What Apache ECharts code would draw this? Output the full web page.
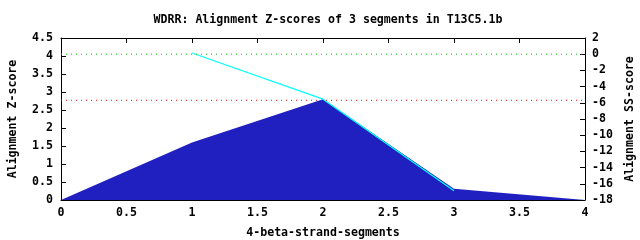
<!DOCTYPE html>
<html>
<head>
<meta charset="utf-8">
<script src="https://cdn.jsdelivr.net/npm/echarts@6/dist/echarts.min.js"></script>
<style>html,body{margin:0;padding:0;background:#fff;}#c{width:640px;height:240px;}</style>
</head>
<body>
<div id="c"></div>
<script>
const titleText = 'WDRR: Alignment Z-scores of 3 segments in T13C5.1b';
const segments = [0, 1, 2, 3, 4];
const zScores = [0, 1.6, 2.8, 0.31, 0];
const ssSegments = [1, 2, 3];
const ssScores = [0.15, -5.55, -16.85];
const zThreshold = 2.77;
const ssThreshold = 0;
const xRange = [0, 4];
const xLabel = '4-beta-strand-segments';
const yLabel = 'Alignment Z-score';
const y2Label = 'Alignment SS-score';

const FONT = '"DejaVu Sans Mono", monospace';
const txt = {fontFamily: FONT, fontSize: 11.6, fontWeight: 'bold', color: '#000'};
const fmt = v => String(v);

const chart = echarts.init(document.getElementById('c'), null, {renderer: 'canvas'});
chart.setOption({
  animation: false,
  backgroundColor: '#fff',
  title: {text: titleText, left: 323, top: 9, textAlign: 'center',
    textStyle: Object.assign({}, txt)},
  grid: {left: 61, right: 55, top: 38, bottom: 40, containLabel: false, outerBoundsMode: 'none'},
  xAxis: [{
    type: 'value', min: 0, max: 4, interval: 0.5, position: 'bottom',
    name: xLabel, nameLocation: 'middle', nameGap: 27, nameTextStyle: txt,
    axisLine: {onZero: false, lineStyle: {color: '#000', width: 1}},
    axisTick: {inside: true, length: 5, lineStyle: {color: '#000'}},
    axisLabel: Object.assign({margin: 7, formatter: fmt}, txt),
    splitLine: {show: false}
  }, {
    type: 'value', min: 0, max: 4, interval: 0.5, position: 'top',
    axisLine: {onZero: false, lineStyle: {color: '#000', width: 1}},
    axisTick: {inside: true, length: 5, lineStyle: {color: '#000'}},
    axisLabel: {show: false}, splitLine: {show: false}
  }],
  yAxis: [{
    type: 'value', min: 0, max: 4.5, interval: 0.5, position: 'left',
    name: yLabel, nameLocation: 'middle', nameGap: 42, nameRotate: 90, nameTextStyle: txt,
    axisLine: {show: true, onZero: false, lineStyle: {color: '#000', width: 1}},
    axisTick: {show: true, inside: true, length: 5, lineStyle: {color: '#000'}},
    axisLabel: Object.assign({margin: 8, formatter: fmt}, txt),
    splitLine: {show: false}
  }, {
    type: 'value', min: -18, max: 2, interval: 2, position: 'right',
    name: y2Label, nameLocation: 'middle', nameGap: 34, nameRotate: 90, nameTextStyle: txt,
    axisLine: {show: true, onZero: false, lineStyle: {color: '#000', width: 1}},
    axisTick: {show: true, inside: true, length: 5, lineStyle: {color: '#000'}},
    axisLabel: Object.assign({margin: 7, formatter: fmt}, txt),
    splitLine: {show: false}
  }],
  series: [{
    type: 'line', xAxisIndex: 0, yAxisIndex: 0,
    data: segments.map((s, i) => [s, zScores[i]]),
    symbol: 'none', lineStyle: {width: 0}, areaStyle: {color: '#2020c0', opacity: 1},
    z: 2
  }, {
    type: 'line', xAxisIndex: 0, yAxisIndex: 0,
    data: xRange.map(x => [x, zThreshold]),
    symbol: 'none', lineStyle: {color: '#ff0000', type: [1, 4], width: 1},
    z: 4
  }, {
    type: 'line', xAxisIndex: 0, yAxisIndex: 1,
    data: xRange.map(x => [x, ssThreshold]),
    symbol: 'none', lineStyle: {color: '#00c000', type: [1, 4], width: 1},
    z: 4
  }, {
    type: 'line', xAxisIndex: 0, yAxisIndex: 1,
    data: ssSegments.map((s, i) => [s, ssScores[i]]),
    symbol: 'none', lineStyle: {color: '#00ffff', width: 1.2},
    z: 3
  }]
});
</script>
</body>
</html>
